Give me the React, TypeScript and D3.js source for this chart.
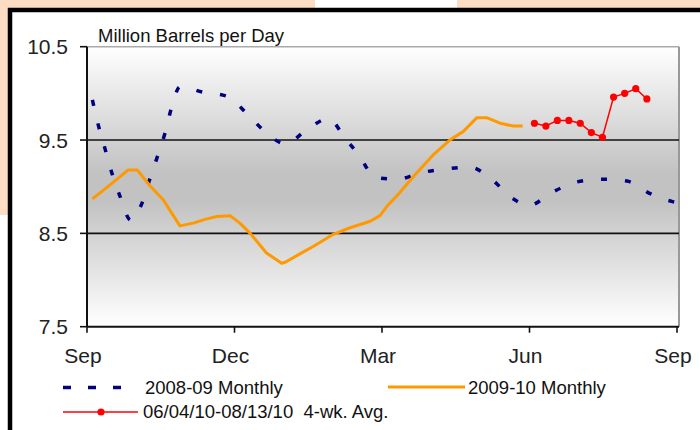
import React from "react";
import * as d3 from "d3";

// axis labels
const monthLabels = ["Sep", "Dec", "Mar", "Jun", "Sep"];
const monthTicks = [0, 3, 6, 9, 12];
const yTicks = [7.5, 8.5, 9.5, 10.5];
const gridLines = [8.5, 9.5];

// 2008-09 monthly (x = months since Sep)
const blueX = [0.11, 0.23, 0.37, 0.51, 0.67, 0.89, 1.1, 1.27, 1.43, 1.59, 1.71, 1.89, 2.38, 2.84, 3.26, 3.62, 4.04, 4.47, 4.91, 5.25, 5.54, 5.86, 6.31, 6.79, 7.3, 7.78, 8.23, 8.64, 8.99, 9.46, 9.96, 10.45, 10.98, 11.48, 11.91, 12];
const blueY = [9.93, 9.66, 9.4, 9.14, 8.9, 8.64, 8.8, 9.07, 9.32, 9.58, 9.83, 10.07, 10.01, 9.97, 9.78, 9.59, 9.46, 9.61, 9.73, 9.52, 9.33, 9.1, 9.08, 9.15, 9.19, 9.21, 9.08, 8.88, 8.8, 8.94, 9.05, 9.08, 9.06, 8.92, 8.84, 8.83];

// 2009-10 monthly
const orangeX = [0.11, 0.47, 0.84, 1.02, 1.28, 1.55, 1.72, 1.89, 2.16, 2.4, 2.64, 2.91, 3.11, 3.32, 3.65, 3.96, 4.03, 4.33, 4.6, 5.01, 5.35, 5.76, 5.96, 6.1, 6.3, 6.64, 7.04, 7.38, 7.65, 7.93, 8.13, 8.4, 8.67, 8.86];
const orangeY = [8.87, 9.02, 9.18, 9.18, 9.01, 8.86, 8.72, 8.58, 8.61, 8.65, 8.68, 8.69, 8.61, 8.5, 8.29, 8.18, 8.19, 8.28, 8.36, 8.49, 8.56, 8.63, 8.69, 8.79, 8.9, 9.11, 9.34, 9.5, 9.59, 9.74, 9.74, 9.68, 9.65, 9.65];

// 06/04/10-08/13/10 4-wk avg
const redDates = ["2010-06-04", "2010-06-11", "2010-06-18", "2010-06-25", "2010-07-02", "2010-07-09", "2010-07-16", "2010-07-23", "2010-07-30", "2010-08-06", "2010-08-13"];
const redY = [9.68, 9.65, 9.71, 9.71, 9.68, 9.58, 9.53, 9.96, 10.0, 10.05, 9.94];

function monthPos(s: string) {
  const d = new Date(s + "T00:00:00");
  const idx = (d.getMonth() - 8 + 12) % 12;
  const days = new Date(d.getFullYear(), d.getMonth() + 1, 0).getDate();
  return idx + (d.getDate() - 1) / days;
}

const font = "'Liberation Sans', Arial, sans-serif";

export default function App() {
  const x = d3.scaleLinear().domain([0, 12]).range([87, 677]);
  const y = d3.scaleLinear().domain([7.5, 10.5]).range([326.7, 46.7]);
  const left = 87, right = 679, top = y(10.5), bottom = y(7.5);

  const smooth = d3.line<[number, number]>().x(d => x(d[0])).y(d => y(d[1])).curve(d3.curveMonotoneX);
  const straight = d3.line<[number, number]>().x(d => x(d[0])).y(d => y(d[1]));

  const blue = blueX.map((m, i) => [m, blueY[i]] as [number, number]);
  const orange = orangeX.map((m, i) => [m, orangeY[i]] as [number, number]);
  const red = redDates.map((s, i) => [monthPos(s), redY[i]] as [number, number]);

  return (
    <svg width={700} height={430} style={{ position: "absolute", left: 0, top: 0, background: "#fff" }} fontFamily={font}>
      <defs>
        <linearGradient id="bg" x1="0" y1="0" x2="0" y2="1">
          <stop offset="0" stopColor="#ffffff" />
          <stop offset="0.45" stopColor="#c2c2c2" />
          <stop offset="0.55" stopColor="#c2c2c2" />
          <stop offset="1" stopColor="#ffffff" />
        </linearGradient>
      </defs>
      {/* page behind the chart frame */}
      <rect x={0} y={0} width={700} height={9} fill="#fddcc4" />
      <rect x={315} y={0} width={142} height={8} fill="#ffffff" />
      <rect x={0} y={0} width={9} height={215} fill="#fddcc4" />
      <rect x={10} y={10} width={700} height={440} fill="#fff" stroke="#000" strokeWidth={4.5} />

      <text x={98} y={41.5} fontSize={18.5} fill="#111">Million Barrels per Day</text>

      <rect x={left} y={top} width={right - left} height={bottom - top} fill="url(#bg)" />
      <line x1={left} x2={right} y1={top} y2={top} stroke="#aaa" strokeWidth={1.5} />
      <line x1={right} x2={right} y1={top} y2={bottom} stroke="#999" strokeWidth={2} />

      {gridLines.map(v => (
        <line key={v} x1={left} x2={right} y1={y(v)} y2={y(v)} stroke="#111" strokeWidth={1.6} />
      ))}
      {yTicks.map(v => (
        <g key={v}>
          <line x1={80} x2={left} y1={y(v)} y2={y(v)} stroke="#111" strokeWidth={1.6} />
          <text x={68} y={y(v) + 7.5} textAnchor="end" fontSize={21} fill="#222">{v.toFixed(1)}</text>
        </g>
      ))}
      {monthTicks.map((m, i) => (
        <g key={i}>
          <line x1={x(m)} x2={x(m)} y1={bottom} y2={bottom + 6} stroke="#111" strokeWidth={1.6} />
          <text x={x(m) - 4} y={363} textAnchor="middle" fontSize={21} fill="#222">{monthLabels[i]}</text>
        </g>
      ))}
      <line x1={left} x2={left} y1={top} y2={bottom} stroke="#111" strokeWidth={2} />
      <line x1={left} x2={right} y1={bottom} y2={bottom} stroke="#111" strokeWidth={2} />

      <path d={smooth(blue) || ""} fill="none" stroke="#000080" strokeWidth={3.5} strokeDasharray="6 18" />
      <path d={straight(orange) || ""} fill="none" stroke="#ff9900" strokeWidth={3} strokeLinejoin="round" />
      <path d={straight(red) || ""} fill="none" stroke="#ff0000" strokeWidth={1.5} />
      {red.map((d, i) => (
        <circle key={i} cx={x(d[0])} cy={y(d[1])} r={3.6} fill="#ff0000" />
      ))}

      {/* legend */}
      <line x1={63} x2={138} y1={387.5} y2={387.5} stroke="#000080" strokeWidth={3.5} strokeDasharray="8 17" />
      <text x={145} y={394} fontSize={18.5} fill="#111">2008-09 Monthly</text>
      <line x1={388} x2={465} y1={387} y2={387} stroke="#ff9900" strokeWidth={3} />
      <text x={468} y={394} fontSize={18.5} fill="#111">2009-10 Monthly</text>
      <line x1={63} x2={138} y1={412} y2={412} stroke="#ff0000" strokeWidth={1.5} />
      <circle cx={101} cy={412} r={3.6} fill="#ff0000" />
      <text x={143} y={418} fontSize={18.5} fill="#111" style={{ whiteSpace: "pre" }}>{"06/04/10-08/13/10  4-wk. Avg."}</text>
    </svg>
  );
}
